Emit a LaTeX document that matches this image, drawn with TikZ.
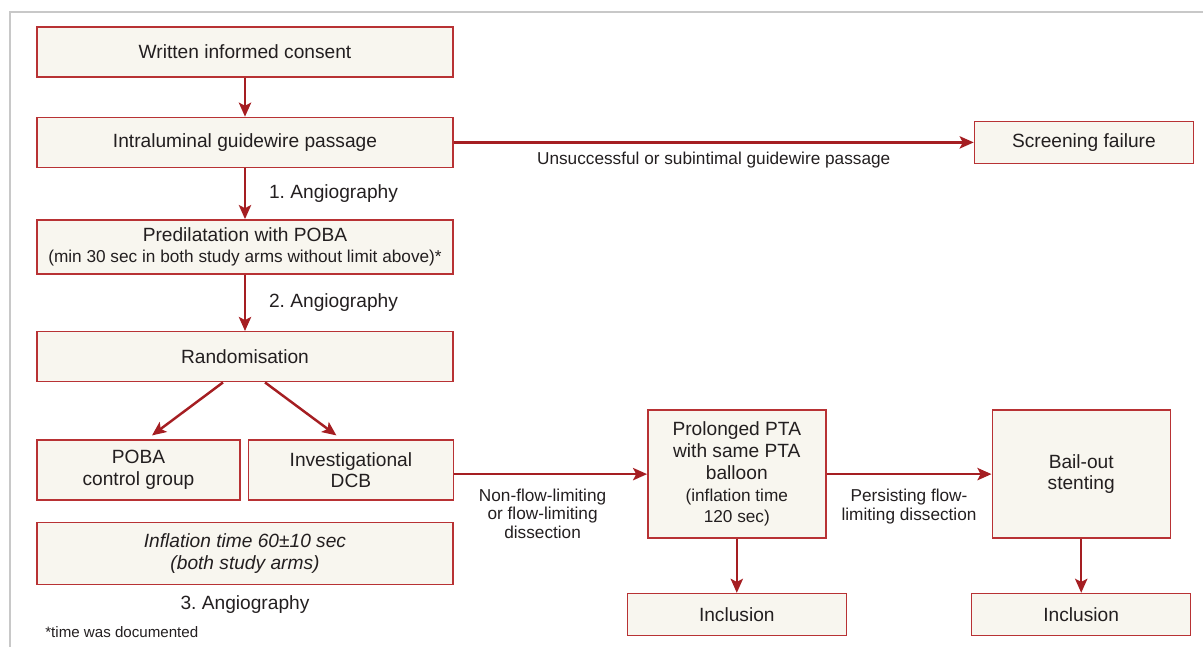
\documentclass[tikz,border=0pt]{standalone}
\usepackage{fontspec}
\setmainfont{Liberation Sans}
\usepackage{tikz}
\usetikzlibrary{positioning, arrows.meta, calc}

\definecolor{boxred}{HTML}{B83234}
\definecolor{arrred}{HTML}{A51E22}
\definecolor{boxfill}{HTML}{F8F6EF}
\definecolor{framegray}{HTML}{C8C8C8}
\definecolor{inkgray}{HTML}{231F20}

\newcommand{\mainsize}{\fontsize{10.9}{12.4}\selectfont}
\newcommand{\notesize}{\fontsize{9.8}{10.6}\selectfont}

\begin{document}
\begin{tikzpicture}[
  font=\mainsize,
  text=inkgray,
  block/.style={draw=boxred, fill=boxfill, line width=0.8pt, minimum width=8.32cm, minimum height=1.0cm, align=center, inner sep=2pt},
  note/.style={font=\notesize, align=center},
  flow/.style={->, draw=arrred, line width=1.4pt},
  >={Stealth[length=8pt, width=7pt, inset=1.8pt]}
]
\useasboundingbox (0,0) rectangle (24.06,-12.94);
% frame, only top and left edge visible
\draw[framegray, line width=0.8pt] (0.2,-12.94) |- (24.06,-0.24);
% main column
\node[block] (consent) at (4.9,-1.04) {Written informed consent};
\node[block, below=0.78cm of consent] (wire) {Intraluminal guidewire passage};
\node[block, minimum width=4.38cm, minimum height=0.84cm, right=10.4cm of wire] (fail) {Screening failure};
\node[block, minimum height=1.08cm, below=1.02cm of wire] (predil) {Predilatation with POBA\\{\notesize (min 30 sec in both study arms without limit above)*}};
\node[block, below=1.13cm of predil] (random) {Randomisation};
% the two study arms
\node[block, minimum width=4.06cm, minimum height=1.2cm, anchor=north west] (poba) at ([yshift=-1.14cm]random.south west) {POBA\\control group};
\node[block, minimum width=4.1cm, minimum height=1.2cm, right=0.14cm of poba] (dcb) {Investigational\\DCB};
\node[block, minimum height=1.24cm, font=\mainsize\itshape, anchor=north] (infl) at ($(poba.south -| random.south)+(0,-0.42)$) {Inflation time 60±10 sec\\(both study arms)};
\node[below=0.08cm of infl] (angio3) {3.\ Angiography};
\node[font=\fontsize{8.6}{10}\selectfont, anchor=west, inner sep=0pt] (foot) at (0.9,-12.64) {*time was documented};
% dissection branch
\node[block, minimum width=3.56cm, minimum height=2.56cm, right=3.86cm of dcb, yshift=-0.08cm] (pta) {Prolonged PTA\\with same PTA\\balloon\\{\notesize (inflation time}\\{\notesize 120 sec)}};
\node[block, minimum width=3.56cm, minimum height=2.56cm, right=3.3cm of pta] (bail) {Bail-out\\stenting};
\node[block, minimum width=4.38cm, minimum height=0.84cm, below=1.08cm of pta] (incl1) {Inclusion};
\node[block, minimum width=4.38cm, minimum height=0.84cm, below=1.08cm of bail] (incl2) {Inclusion};
% connectors
\draw[flow] (consent) -- (wire);
\draw[flow] (wire) -- node[note, below=0.05cm]{Unsuccessful or subintimal guidewire passage} (fail);
\draw[flow] (wire) -- node[right=0.34cm]{1.\ Angiography} (predil);
\draw[flow] (predil) -- node[right=0.34cm]{2.\ Angiography} (random);
\draw[flow] ([xshift=-0.44cm]random.south) -- ($(poba.north)+(0.27,0.08)$);
\draw[flow] ([xshift=0.4cm]random.south) -- ($(dcb.north)+(-0.29,0.08)$);
\draw[flow] (dcb.east |- pta.west) -- node[note, below=0.15cm, xshift=-0.16cm]{Non-flow-limiting\\or flow-limiting\\dissection} (pta.west);
\draw[flow] (pta) -- node[note, below=0.16cm]{Persisting flow-\\limiting dissection} (bail);
\draw[flow] (pta) -- (incl1);
\draw[flow] (bail) -- (incl2);
\end{tikzpicture}
\end{document}
